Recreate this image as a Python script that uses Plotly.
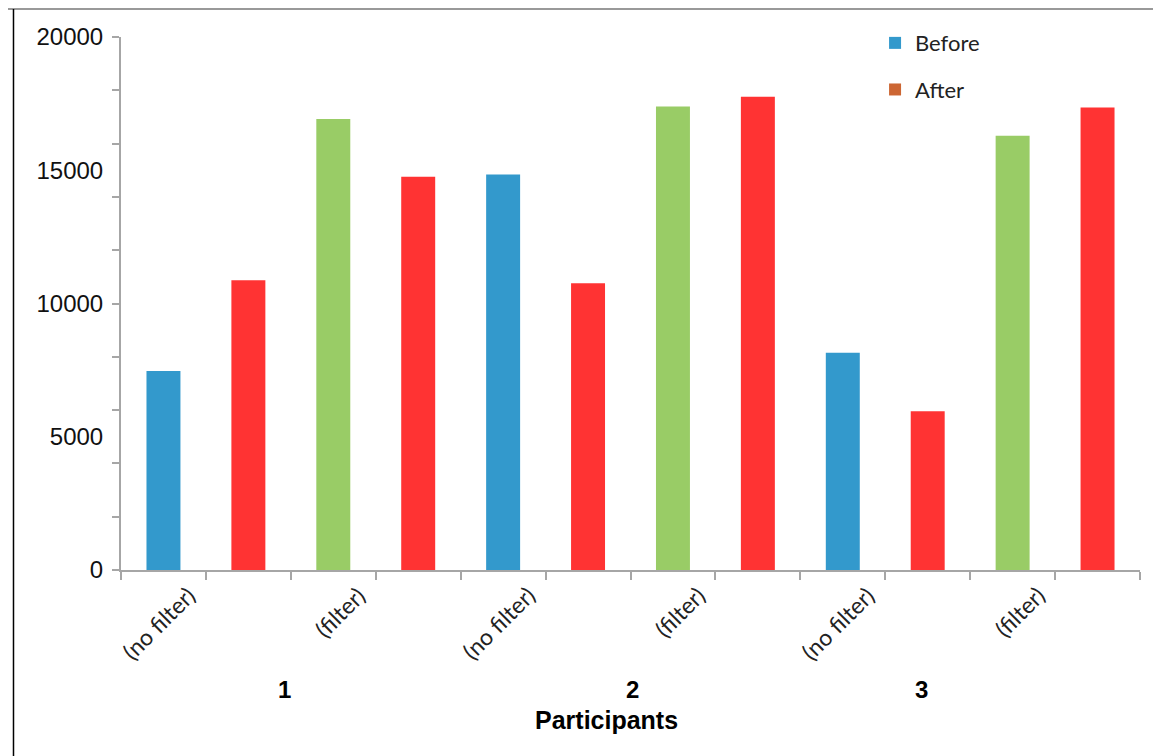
import plotly.graph_objects as go

# ---- data ----
bar_labels = ["(no filter)", "", "(filter)", "", "(no filter)", "", "(filter)", "", "(no filter)", "", "(filter)", ""]
values = [7470, 10875, 16920, 14760, 14840, 10760, 17390, 17760, 8150, 5960, 16290, 17350]
bar_colors = ["#3399CC", "#FF3333", "#99CC66", "#FF3333", "#3399CC", "#FF3333",
              "#99CC66", "#FF3333", "#3399CC", "#FF3333", "#99CC66", "#FF3333"]
participants = ["1", "2", "3"]
participant_pos = [1.42, 5.52, 8.93]
legend_names = ["Before", "After"]
legend_colors = ["#3399CC", "#CC6633"]
y_tick_vals = [0, 5000, 10000, 15000, 20000]
y_minor_vals = list(range(0, 20001, 2000))
x_title = "Participants"

xs = list(range(len(values)))
AXIS = "#A6A6A6"

fig = go.Figure()
fig.add_trace(go.Bar(x=xs, y=values, marker=dict(color=bar_colors, line=dict(width=0)),
                     width=0.4, showlegend=False, hoverinfo="y"))
for i, (n, c) in enumerate(zip(legend_names, legend_colors)):
    fig.add_trace(go.Bar(x=[0], y=[None], name=n, marker=dict(color=c, line=dict(width=0)),
                         yaxis="y2", legendgroup=f"g{i}"))

# rotated category labels
for x, lab in zip(xs, bar_labels):
    if lab:
        fig.add_annotation(x=x, y=0, xref="x", yref="paper", text=lab, showarrow=False,
                           textangle=-45, xanchor="right", yanchor="top", xshift=40, yshift=-8,
                           font=dict(family="Lato", size=23, color="#222"))
for p, pos in zip(participants, participant_pos):
    fig.add_annotation(x=pos, y=-0.225, xref="x", yref="paper", text=f"<b>{p}</b>",
                       showarrow=False, xanchor="center", yanchor="middle",
                       font=dict(family="Liberation Sans", size=24, color="#000"))
fig.add_annotation(x=0.476, y=-0.281, xref="paper", yref="paper", text=f"<b>{x_title}</b>",
                   showarrow=False, xanchor="center", yanchor="middle",
                   font=dict(family="Liberation Sans", size=25, color="#000"))

# image frame lines
fig.add_shape(type="line", xref="paper", yref="paper", x0=-0.116, x1=1.03, y0=1.0525, y1=1.0525,
              line=dict(color="#999999", width=2))
fig.add_shape(type="line", xref="paper", yref="paper", x0=-0.1055, x1=-0.1055, y0=1.0525, y1=-0.36,
              line=dict(color="#000000", width=1.5))

fig.update_layout(
    width=1153, height=748,
    margin=dict(l=113, r=21, t=29, b=186),
    paper_bgcolor="white", plot_bgcolor="white",
    barmode="overlay",
    showlegend=True,
    legend=dict(x=0.74, y=1.028, xanchor="left", yanchor="top", traceorder="grouped",
                tracegroupgap=15, bgcolor="rgba(0,0,0,0)",
                font=dict(family="Lato", size=22, color="#222")),
    xaxis=dict(range=[-0.5, 11.5], tickvals=[v - 0.5 for v in range(len(values) + 1)],
               showticklabels=False, ticks="outside", ticklen=8, tickcolor=AXIS, tickwidth=2,
               showline=True, linecolor=AXIS, linewidth=2, showgrid=False, zeroline=False),
    yaxis=dict(range=[0, 20000], tickvals=y_minor_vals, showticklabels=False,
               ticks="outside", ticklen=7, tickcolor=AXIS, tickwidth=2,
               showline=True, linecolor=AXIS, linewidth=2, showgrid=False, zeroline=False),
    yaxis2=dict(overlaying="y", side="left", range=[0, 20000], tickvals=y_tick_vals,
                ticktext=[str(v) for v in y_tick_vals],
                ticks="outside", ticklen=12, tickcolor="rgba(0,0,0,0)",
                showline=False, showgrid=False, zeroline=False,
                tickfont=dict(family="Liberation Sans", size=24, color="#111")),
)

fig.write_html("out.html")
